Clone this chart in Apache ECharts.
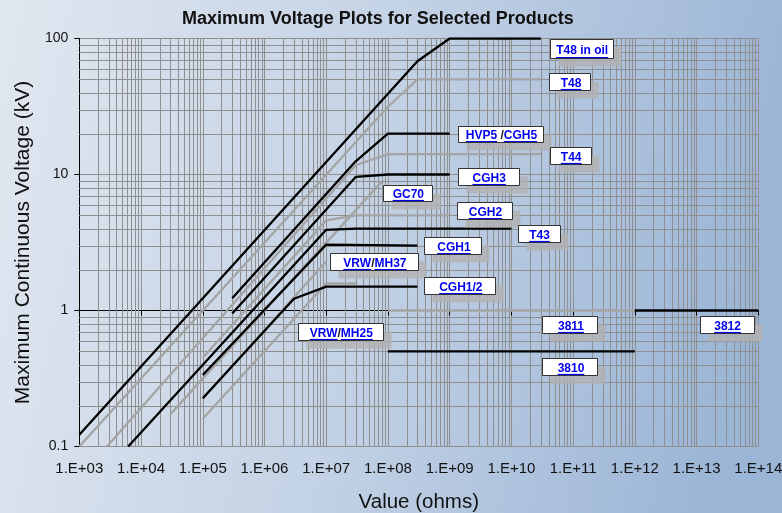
<!DOCTYPE html>
<html><head><meta charset="utf-8">
<script src="https://cdn.jsdelivr.net/npm/echarts@6/dist/echarts.min.js"></script>
<style>html,body{margin:0;padding:0;}#c{width:782px;height:513px;}</style>
</head><body><div id="c"></div>
<script>
// ---------- data ----------
const xTickLabels = ['1.E+03','1.E+04','1.E+05','1.E+06','1.E+07','1.E+08','1.E+09','1.E+10','1.E+11','1.E+12','1.E+13','1.E+14'];
const yTickLabels = ['0.1','1','10','100'];
const minorFactors = [2,3,4,5,6,7,8,9];

// [resistance (ohms), max voltage (kV)] vertices
// black series
const t48InOil = [[1e3,0.122],[3e8,68],[1e9,100],[3e10,100]];
const hvp5Cgh5 = [[3e5,1.23],[3e7,12.5],[1e8,20],[1e9,20]];
const cgh3     = [[3e5,0.95],[3e7,9.6],[1e8,10],[1e9,10]];
const t43      = [[6.2e3,0.1],[1e7,3.92],[3e7,4.0],[1e10,4.0]];
const cgh1     = [[1e5,0.336],[1e7,3.05],[3e8,3.0]];
const cgh1_2   = [[1e5,0.226],[3e6,1.22],[1e7,1.5],[3e8,1.5]];
const r3810    = [[1e8,0.5],[1e12,0.5]];
const r3812    = [[1e12,1.0],[1e14,1.0]];
// grey series
const t48      = [[1e3,0.1],[1e8,31.5],[3e8,50],[3e10,50]];
const t44      = [[2.8e3,0.1],[3e7,11.7],[1e8,14.1],[3e10,14.1]];
const gc70     = [[3e4,0.173],[8e7,8.9]];
const cgh2     = [[1e5,0.45],[1e7,4.6],[3e7,5.0],[1e9,5.0]];
const vrwMh37  = [[1e5,0.224],[1e7,2.29]];
const vrwMh25  = [[1e5,0.16],[1e7,1.58],[3e7,1.58]];
const r3811    = [[1e8,1.0],[1e12,1.0]];

// label texts (parts: [text, isLink]) and their anchor (box centre) in data units
const labelParts = [
  [['T48 in oil',1]], [['T48',1]], [['HVP5',1],[' /',0],['CGH5',1]], [['T44',1]],
  [['CGH3',1]], [['GC70',1]], [['CGH2',1]], [['T43',1]], [['CGH1',1]],
  [['VRW',1],['/',0],['MH37',1]], [['CGH1/2',1]], [['VRW',1],['/',0],['MH25',1]],
  [['3811',1]], [['3812',1]], [['3810',1]]
];
const labelAnchors = [
  [1.35e11,83.8],[8.9e10,48.4],[6.64e9,20.0],[8.97e10,13.9],
  [4.2e9,9.6],[2.06e8,7.3],[3.66e9,5.48],[2.75e10,3.70],[1.13e9,3.03],
  [5.93e7,2.29],[1.46e9,1.52],[1.69e7,0.703],
  [8.9e10,0.785],[3.06e13,0.785],[8.9e10,0.385]
];

// ---------- styles ----------
const FONT = 'Liberation Sans, Arial, Helvetica, sans-serif';
const BLACK = '#000000', GREY = '#a4a4a4', GRID = '#8f8f8f';
const labelBoxW = [63,41,85,41,61,49,55,42,57,88,71,85,55,54,55];
const labelBoxH = [19,17,16,17,17,16,17,17,17,17,17,17,17,17,17];

const L = Math.log10;
const chart = echarts.init(document.getElementById('c'), null, {renderer:'canvas'});

function mk(name, pts, color, z){
  return {name, type:'line', data: pts.map(p=>[L(p[0]), L(p[1])]), symbol:'none', showSymbol:false,
    lineStyle:{color, width:2.3}, z, silent:true, animation:false};
}

const series = [
  mk('T48', t48, GREY, 3), mk('T44', t44, GREY, 3), mk('GC70', gc70, GREY, 3),
  mk('CGH2', cgh2, GREY, 3), mk('VRW/MH37', vrwMh37, GREY, 3), mk('VRW/MH25', vrwMh25, GREY, 3),
  mk('3811', r3811, GREY, 3),
  mk('T48 in oil', t48InOil, BLACK, 4), mk('HVP5/CGH5', hvp5Cgh5, BLACK, 4), mk('CGH3', cgh3, BLACK, 4),
  mk('T43', t43, BLACK, 4), mk('CGH1', cgh1, BLACK, 4), mk('CGH1/2', cgh1_2, BLACK, 4),
  mk('3810', r3810, BLACK, 4), mk('3812', r3812, BLACK, 4)
];

chart.setOption({
  animation:false,
  backgroundColor:{type:'linear',x:0,y:0,x2:1,y2:0.3,colorStops:[
    {offset:0,color:'#e1e7f0'},{offset:0.5,color:'#c3d2e5'},{offset:1,color:'#9bb5d6'}]},
  title:{text:'Maximum Voltage Plots for Selected Products', left:177, top:5,
    textStyle:{fontFamily:FONT, fontSize:18, fontWeight:'bold', color:'#111'}},
  grid:{left:79.3, right:23.7, top:38.5, bottom:66.5, containLabel:false, outerBoundsMode:'none'},
  xAxis:{type:'value', min:3, max:14, interval:1,
    name:'Value (ohms)', nameLocation:'middle', nameGap:45,
    nameTextStyle:{fontFamily:FONT, fontSize:20.5, color:'#111'},
    axisLine:{show:true, lineStyle:{color:'#000', width:1}},
    axisTick:{show:true, length:5, lineStyle:{color:'#000'}},
    axisLabel:{fontFamily:FONT, fontSize:15, color:'#111', margin:15,
      formatter:v=>xTickLabels[Math.round(v)-3]},
    splitLine:{show:true, lineStyle:{color:GRID, width:1}}},
  yAxis:{type:'value', min:-1, max:2, interval:1,
    name:'Maximum Continuous Voltage (kV)', nameLocation:'middle', nameGap:44,
    nameTextStyle:{fontFamily:FONT, fontSize:21, color:'#111'},
    axisLine:{show:true, lineStyle:{color:'#000', width:1}},
    axisTick:{show:true, length:5, lineStyle:{color:'#000'}},
    axisLabel:{fontFamily:FONT, fontSize:14, color:'#111', margin:11,
      formatter:v=>yTickLabels[Math.round(v)+1]},
    splitLine:{show:true, lineStyle:{color:GRID, width:1}}},
  series
});

// minor grid lines (through the axes) and labels
const g = [];
const yTop = chart.convertToPixel({yAxisIndex:0}, 2);
const yBot = chart.convertToPixel({yAxisIndex:0}, -1);
const xLeft = chart.convertToPixel({xAxisIndex:0}, 3);
const xRight = chart.convertToPixel({xAxisIndex:0}, 14);
for (let d = 3; d < 14; d++) {
  minorFactors.forEach(f => {
    const px = Math.round(chart.convertToPixel({xAxisIndex:0}, d + L(f))) + 0.5;
    g.push({type:'line', silent:true, z:1, shape:{x1:px,y1:yTop,x2:px,y2:yBot}, style:{stroke:GRID, lineWidth:1}});
  });
}
for (let d = -1; d < 2; d++) {
  minorFactors.forEach(f => {
    const py = Math.round(chart.convertToPixel({yAxisIndex:0}, d + L(f))) + 0.5;
    g.push({type:'line', silent:true, z:1, shape:{x1:xLeft,y1:py,x2:xRight,y2:py}, style:{stroke:GRID, lineWidth:1}});
  });
}

const cv = document.createElement('canvas').getContext('2d');
const LFONT = 'bold 12px ' + FONT;
cv.font = LFONT;
labelParts.forEach((parts, i) => {
  const a = labelAnchors[i];
  const c = chart.convertToPixel({gridIndex:0}, [L(a[0]), L(a[1])]);
  const w = labelBoxW[i], h = labelBoxH[i];
  const x0 = Math.round(c[0] - w/2) + 0.5, y0 = Math.round(c[1] - h/2) + 0.5;
  g.push({type:'rect', silent:true, z:20, shape:{x:x0+8,y:y0+8,width:w,height:h}, style:{fill:'rgba(178,178,178,0.8)'}});
  g.push({type:'rect', silent:true, z:21, shape:{x:x0,y:y0,width:w,height:h}, style:{fill:'#ffffff', stroke:'#333', lineWidth:1}});
  const widths = parts.map(p => cv.measureText(p[0]).width);
  const total = widths.reduce((s,v)=>s+v,0);
  let x = c[0] - total/2 + 1;
  const ty = y0 + h/2 + 1.2;
  parts.forEach((p, k) => {
    g.push({type:'text', silent:true, z:22, x:x, y:ty,
      style:{text:p[0], font:LFONT, fill:p[1]?'#0000ee':'#222',
        textAlign:'left', textVerticalAlign:'middle', align:'left', verticalAlign:'middle'}});
    if (p[1]) {
      const uy = Math.round(y0 + h - 2) + 0.5;
      g.push({type:'line', silent:true, z:22, shape:{x1:x,y1:uy,x2:x+widths[k],y2:uy}, style:{stroke:'#0000ee', lineWidth:1.2}});
    }
    x += widths[k];
  });
});
chart.setOption({graphic:{elements:g}});
</script></body></html>
